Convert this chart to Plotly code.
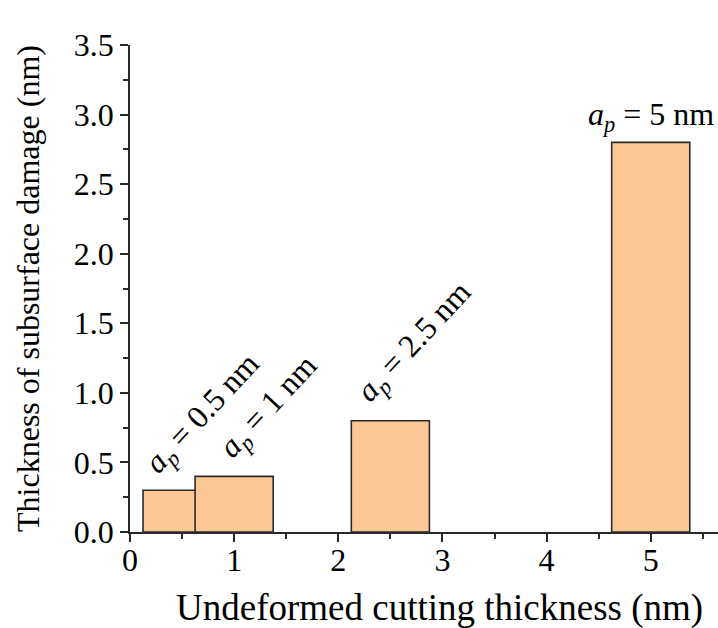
import plotly.graph_objects as go

# Undeformed cutting thickness (nm) and the resulting subsurface damage depth (nm)
cut_thickness = [0.5, 1, 2.5, 5]
damage_depth = [0.3, 0.4, 0.8, 2.8]
depth_labels = ["0.5", "1", "2.5", "5"]

x_ticks = [0, 1, 2, 3, 4, 5]
y_ticks = [0.0, 0.5, 1.0, 1.5, 2.0, 2.5, 3.0, 3.5]

FONT = "Liberation Serif"
INK = "#2a2a2a"
FILL = "#FBC794"

fig = go.Figure()
fig.add_trace(go.Bar(
    x=cut_thickness,
    y=damage_depth,
    width=0.75,
    marker=dict(color=FILL, line=dict(color=INK, width=1.6)),
    showlegend=False,
))

# label offsets (px) from each bar's top centre, and rotation
label_style = [
    dict(xshift=21, yshift=76, textangle=-47),
    dict(xshift=35, yshift=69, textangle=-47),
    dict(xshift=25, yshift=78, textangle=-47),
    dict(xshift=0, yshift=26, textangle=0),
]
for xv, yv, lab, st in zip(cut_thickness, damage_depth, depth_labels, label_style):
    fig.add_annotation(
        x=xv, y=yv, xref="x", yref="y",
        text=f"<i>a</i><sub><i>p</i></sub> = {lab} nm",
        showarrow=False, xanchor="center", yanchor="middle",
        font=dict(family=FONT, size=32, color="black"),
        **st,
    )

# x-axis title, set slightly right of the plot centre
fig.add_annotation(
    x=0.526, y=-0.156, xref="paper", yref="paper",
    text="Undeformed cutting thickness (nm)",
    showarrow=False, xanchor="center", yanchor="middle",
    font=dict(family=FONT, size=37, color="black"),
)

axis_common = dict(
    showgrid=False, zeroline=False, showline=True, linecolor=INK, linewidth=1.6,
    ticks="outside", ticklen=8, tickwidth=1.6, tickcolor=INK,
    tickfont=dict(family=FONT, size=32, color="black"),
)

fig.update_xaxes(
    range=[0, 5.646], tickvals=x_ticks, ticktext=[str(v) for v in x_ticks],
    ticklabelstandoff=-9,
    minor=dict(dtick=0.5, tick0=0, ticks="outside", ticklen=5, tickwidth=1.6, tickcolor=INK),
    **axis_common,
)
fig.update_yaxes(
    range=[0, 3.5], tickvals=y_ticks, ticktext=[f"{v:.1f}" for v in y_ticks],
    minor=dict(dtick=0.25, tick0=0, ticks="outside", ticklen=5, tickwidth=1.6, tickcolor=INK),
    title=dict(text="Thickness of subsurface damage (nm)", font=dict(family=FONT, size=32, color="black"), standoff=25),
    **axis_common,
)

fig.update_layout(
    width=718, height=628,
    margin=dict(l=130, r=0, t=45, b=96),
    plot_bgcolor="white", paper_bgcolor="white",
    barmode="overlay",
)

fig.write_html("out.html")
